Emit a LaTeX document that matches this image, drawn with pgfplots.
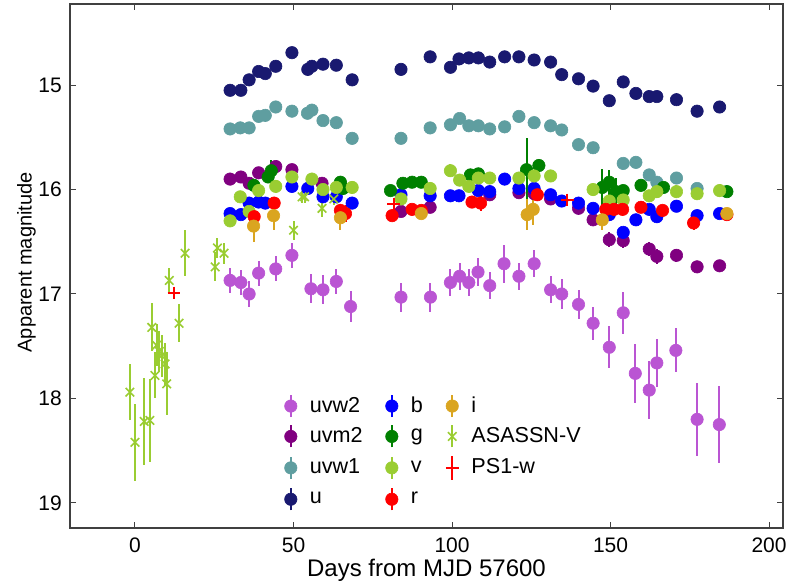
\documentclass[border=0pt]{standalone}
\usepackage{pgfplots}
\pgfplotsset{compat=1.18}
\usepackage{fontspec}
\setmainfont{Liberation Sans}
\definecolor{cuvwtwo}{RGB}{186,85,211}
\definecolor{cuvmtwo}{RGB}{128,0,128}
\definecolor{cuvwone}{RGB}{95,158,160}
\definecolor{cu}{RGB}{25,25,112}
\definecolor{cb}{RGB}{0,0,255}
\definecolor{cg}{RGB}{0,128,0}
\definecolor{cv}{RGB}{154,205,50}
\definecolor{cr}{RGB}{255,0,0}
\definecolor{ci}{RGB}{218,165,32}
\definecolor{cas}{RGB}{154,205,50}
\pgfplotsset{
  swift/.style={color=#1, only marks, mark=*, mark size=3.1pt,
    mark options={solid, fill=#1, draw=#1, line width=0.3pt},
    error bars/y dir=both, error bars/y explicit,
    error bars/error bar style={line width=1pt, #1},
    error bars/error mark=none,
    legend image code/.code={
      \draw[line width=1pt] (0pt,-5.5pt) -- (0pt,5.5pt);
      \draw[only marks, mark=*, mark size=3.1pt] plot coordinates {(0pt,0pt)};
    }},
  asas/.style={color=#1, only marks, mark=x, mark size=3pt,
    mark options={solid, line width=0.8pt},
    error bars/y dir=both, error bars/y explicit,
    error bars/error bar style={line width=1pt, #1},
    error bars/error mark=none,
    legend image code/.code={
      \draw[line width=1pt] (0pt,-5.5pt) -- (0pt,5.5pt);
      \draw[only marks, mark=x, mark size=3pt, mark options={line width=0.8pt}] plot coordinates {(0pt,0pt)};
    }},
  psone/.style={color=#1, only marks, mark=+, mark size=3.2pt,
    mark options={solid, line width=1pt},
    error bars/y dir=both, error bars/y explicit,
    error bars/error bar style={line width=1pt, #1},
    error bars/error mark=none,
    legend image code/.code={
      \draw[line width=1pt] (0pt,-6pt) -- (0pt,6pt);
      \draw[only marks, mark=+, mark size=3.2pt, mark options={line width=1pt}] plot coordinates {(0pt,0pt)};
    }},
}
\begin{document}
\begin{tikzpicture}
\begin{axis}[name=ax, scale only axis, width=356.5pt, height=262pt,
  xmin=-20.5, xmax=204.4, ymin=14.224, ymax=19.24, y dir=reverse,
  xtick={0,50,...,200}, ytick={15,16,17,18,19},
  tick align=inside, major tick length=3pt,
  axis line style={black!75, line width=0.6pt},
  tick style={black!75, line width=0.5pt},
  ticklabel style={font=\fontsize{10.5}{12}\selectfont},
  xticklabel style={yshift=-1.5pt},
  yticklabel style={xshift=-0.6pt},
  /pgf/number format/assume math mode=true,
  xlabel={Days from MJD 57600}, ylabel={Apparent magnitude},
  xlabel style={font=\fontsize{12}{14}\selectfont, at={(axis description cs:0.5,-0.093)}, anchor=base},
  ylabel style={font=\fontsize{10}{12}\selectfont, at={(axis description cs:-0.0537,0.507)}, anchor=base},
  legend columns=4, transpose legend,
  legend cell align=left,
  legend style={draw=none, fill=none, at={(axis description cs:0.292,0.264)}, anchor=north west,
    font=\fontsize{10.8}{13}\selectfont, nodes={inner sep=1pt}, row sep=3.2pt,
    /tikz/every odd column/.append style={column sep=5.4pt},
    /tikz/every even column/.append style={column sep=10.5pt}},
  legend entries={uvw2,uvm2,uvw1,u,b,g,v,r,i,ASASSN-V,PS1-w},
]
% uvw2
\addplot[swift=cuvwtwo] table[x index=0, y index=1, y error index=2] {
30.0 16.87 0.12
33.4 16.89 0.12
36.0 17.00 0.12
39.0 16.80 0.12
44.4 16.76 0.12
49.5 16.63 0.12
55.5 16.95 0.14
59.3 16.96 0.14
63.5 16.88 0.12
68.0 17.12 0.15
83.9 17.03 0.14
93.2 17.03 0.14
99.5 16.89 0.13
102.4 16.83 0.13
105.3 16.89 0.13
108.2 16.79 0.13
111.9 16.92 0.13
116.4 16.71 0.18
121.1 16.83 0.13
125.9 16.71 0.13
131.1 16.96 0.13
134.6 17.00 0.14
139.9 17.10 0.14
144.5 17.28 0.16
149.6 17.51 0.20
154.0 17.18 0.20
157.8 17.76 0.28
162.2 17.92 0.28
164.6 17.66 0.23
170.6 17.54 0.21
177.3 18.20 0.35
184.3 18.25 0.37
};
% uvm2
\addplot[swift=cuvmtwo] table[x index=0, y index=1, y error index=2] {
30.0 15.90 0.05
33.4 15.88 0.05
36.0 15.94 0.05
39.0 15.84 0.05
44.4 15.78 0.05
49.5 15.81 0.05
59.0 15.94 0.05
83.9 16.21 0.05
93.1 16.17 0.05
111.9 16.05 0.05
121.1 16.03 0.05
125.9 16.04 0.05
131.1 16.09 0.05
139.9 16.18 0.05
144.5 16.29 0.06
149.6 16.48 0.07
154.0 16.49 0.07
162.2 16.57 0.07
164.6 16.64 0.07
170.8 16.63 0.06
177.3 16.74 0.06
184.4 16.73 0.06
};
% uvw1
\addplot[swift=cuvwone] table[x index=0, y index=1, y error index=2] {
30.0 15.42 0.04
33.2 15.41 0.04
36.0 15.41 0.04
39.0 15.30 0.04
41.1 15.29 0.04
44.4 15.21 0.04
49.5 15.25 0.04
54.4 15.27 0.05
55.8 15.24 0.05
59.3 15.34 0.04
63.5 15.36 0.04
68.5 15.51 0.04
83.9 15.51 0.04
93.1 15.41 0.04
99.5 15.38 0.04
102.4 15.32 0.04
105.3 15.39 0.04
108.3 15.39 0.04
111.9 15.42 0.04
116.6 15.40 0.04
121.1 15.30 0.04
125.9 15.36 0.04
131.1 15.39 0.04
134.6 15.43 0.04
139.9 15.57 0.04
144.5 15.60 0.04
154.0 15.75 0.05
158.0 15.74 0.05
162.2 15.86 0.05
164.6 15.93 0.05
170.8 15.89 0.04
177.3 15.99 0.04
};
% u
\addplot[swift=cu] table[x index=0, y index=1, y error index=2] {
30.0 15.05 0.03
33.4 15.05 0.03
36.0 14.95 0.03
39.0 14.87 0.03
41.1 14.89 0.03
44.4 14.82 0.03
49.5 14.69 0.03
54.5 14.85 0.03
55.8 14.82 0.03
59.3 14.80 0.03
63.5 14.81 0.03
68.5 14.95 0.03
83.9 14.85 0.03
93.1 14.73 0.03
99.5 14.83 0.03
102.2 14.75 0.03
105.3 14.74 0.03
108.3 14.74 0.03
111.9 14.78 0.03
116.6 14.73 0.03
121.1 14.73 0.03
125.9 14.76 0.03
131.1 14.78 0.03
134.6 14.90 0.03
139.9 14.94 0.03
144.5 15.01 0.03
149.6 15.15 0.03
154.0 14.97 0.03
158.0 15.08 0.03
162.2 15.11 0.03
164.6 15.11 0.03
170.8 15.14 0.03
177.3 15.25 0.03
184.4 15.21 0.03
};
% b
\addplot[swift=cb] table[x index=0, y index=1, y error index=2] {
30.0 16.23 0.04
33.4 16.24 0.04
36.0 16.13 0.04
39.0 16.12 0.04
41.1 16.13 0.04
49.5 15.97 0.04
54.5 15.99 0.04
59.3 16.07 0.04
63.5 16.07 0.04
68.5 16.13 0.04
83.9 16.05 0.04
93.1 16.06 0.04
99.5 16.06 0.04
102.2 16.06 0.04
108.3 16.01 0.04
111.9 16.02 0.04
116.6 15.90 0.04
121.1 15.99 0.04
125.9 15.99 0.04
131.1 16.05 0.04
134.6 16.11 0.04
139.9 16.13 0.04
144.5 16.18 0.04
149.6 16.24 0.05
154.0 16.41 0.05
158.0 16.29 0.05
162.2 16.19 0.05
164.6 16.26 0.05
170.8 16.16 0.05
177.3 16.25 0.05
184.4 16.23 0.05
};
% g
\addplot[swift=cg] table[x index=0, y index=1, y error index=2] {
37.5 15.96 0.05
42.0 15.88 0.06
43.0 15.82 0.10
64.8 15.93 0.06
65.6 15.99 0.06
80.6 16.01 0.04
84.5 15.94 0.04
87.4 15.93 0.04
90.3 15.93 0.04
105.8 15.86 0.05
108.3 15.85 0.05
123.5 15.81 0.30
127.4 15.77 0.06
147.4 15.98 0.18
149.6 15.93 0.12
151.7 16.02 0.13
154.0 16.01 0.05
159.6 15.96 0.04
166.7 15.98 0.04
186.7 16.02 0.04
};
% v
\addplot[swift=cv] table[x index=0, y index=1, y error index=2] {
30.0 16.30 0.06
33.2 16.07 0.06
36.0 16.21 0.06
39.0 16.01 0.06
44.4 15.97 0.06
49.5 15.88 0.06
55.8 15.90 0.06
59.3 16.00 0.06
63.5 15.98 0.06
68.5 15.98 0.06
83.9 16.09 0.06
93.1 15.99 0.06
99.5 15.82 0.06
102.4 15.91 0.06
105.3 15.97 0.06
108.3 15.89 0.06
111.9 15.89 0.06
121.1 15.89 0.06
125.9 15.87 0.06
131.1 15.87 0.06
144.5 16.00 0.06
149.6 16.11 0.06
154.0 16.10 0.06
162.2 16.06 0.06
164.6 16.02 0.06
170.8 16.02 0.06
177.3 16.04 0.06
184.4 16.01 0.06
};
% r
\addplot[swift=cr] table[x index=0, y index=1, y error index=2] {
37.6 16.26 0.06
43.9 16.13 0.06
64.8 16.20 0.06
66.4 16.23 0.08
81.1 16.25 0.04
87.4 16.19 0.04
90.3 16.20 0.04
106.3 16.12 0.06
109.0 16.13 0.08
126.9 16.05 0.05
148.5 16.19 0.05
151.1 16.19 0.05
153.8 16.19 0.05
159.6 16.17 0.05
166.4 16.20 0.05
176.2 16.32 0.07
186.7 16.24 0.05
};
% i
\addplot[swift=ci] table[x index=0, y index=1, y error index=2] {
37.4 16.35 0.15
43.7 16.25 0.14
64.8 16.27 0.12
90.3 16.23 0.05
123.7 16.24 0.15
125.6 16.19 0.15
147.4 16.29 0.10
186.7 16.23 0.04
};
% ASASSN-V
\addplot[asas=cas] table[x index=0, y index=1, y error index=2] {
-1.6 17.94 0.27
0.0 18.42 0.37
2.9 18.22 0.42
4.7 18.21 0.40
5.3 17.32 0.23
6.3 17.78 0.22
6.8 17.49 0.20
7.7 17.55 0.20
8.4 17.59 0.20
9.5 17.67 0.20
10.0 17.86 0.30
10.8 16.87 0.12
13.9 17.28 0.18
15.8 16.61 0.22
25.3 16.74 0.14
26.0 16.56 0.10
28.1 16.61 0.10
50.0 16.39 0.09
52.7 16.07 0.06
53.5 16.07 0.06
59.0 16.18 0.08
62.7 16.09 0.06
};
% PS1-w
\addplot[psone=cr] table[x index=0, y index=1, y error index=2] {
12.3 16.99 0.03
81.6 16.14 0.03
136.4 16.10 0.03
};
\end{axis}
\pgfresetboundingbox
\path[use as bounding box] ([xshift=-35pt,yshift=-29pt]ax.south west) rectangle ([xshift=3.5pt,yshift=2pt]ax.north east);
\end{tikzpicture}
\end{document}
